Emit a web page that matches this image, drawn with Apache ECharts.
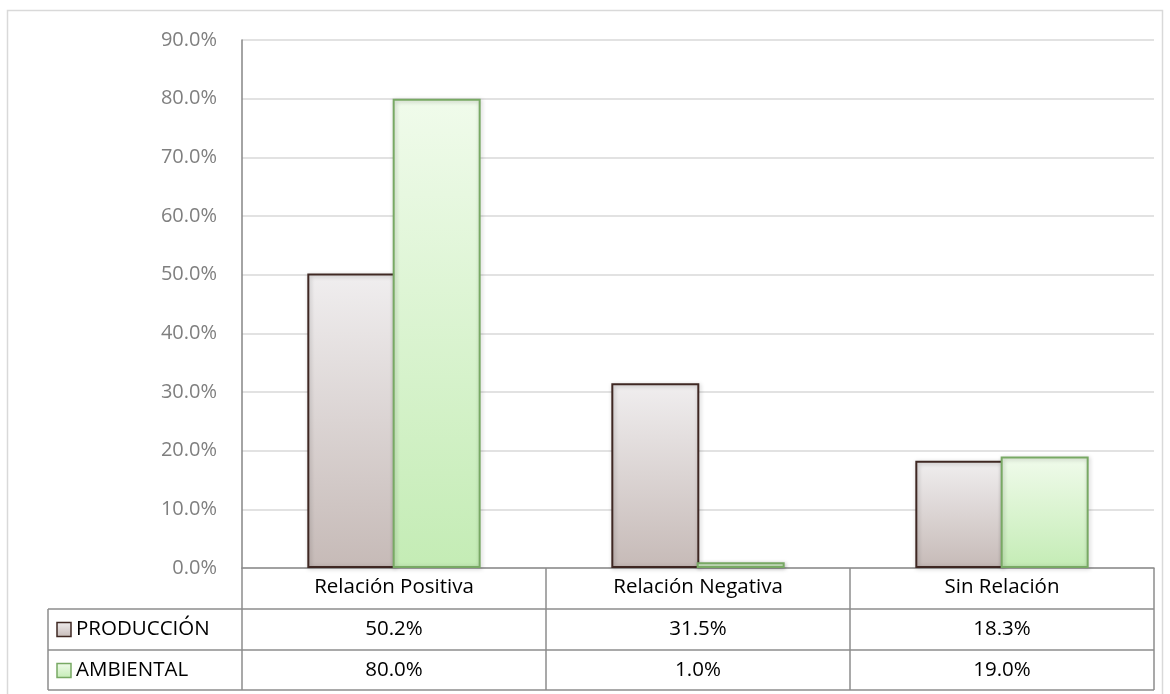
<!DOCTYPE html>
<html>
<head>
<meta charset="utf-8">
<script src="https://cdn.jsdelivr.net/npm/echarts@6/dist/echarts.min.js"></script>
<style>
  html, body { margin: 0; padding: 0; background: #fff; }
  #chart { width: 1170px; height: 694px; }
</style>
</head>
<body>
<div id="chart"></div>
<script>
// Data
const categories = ['Relación Positiva', 'Relación Negativa', 'Sin Relación'];
const seriesNames = ['PRODUCCIÓN', 'AMBIENTAL'];
const produccion = [50.2, 31.5, 18.3];
const ambiental = [80.0, 1.0, 19.0];

const fontFamily = '"Open Sans", "Noto Sans", sans-serif';
const tableFont = '20.5px ' + fontFamily;

// Fill / border colours per series
const fills = [
    new echarts.graphic.LinearGradient(0, 0, 0, 1, [
        { offset: 0, color: '#f0eeef' },
        { offset: 1, color: '#c6bab7' }
    ]),
    new echarts.graphic.LinearGradient(0, 0, 0, 1, [
        { offset: 0, color: '#f0fbeb' },
        { offset: 1, color: '#c4ecb5' }
    ])
];
const borders = ['#3f2823', '#78a964'];

const chart = echarts.init(document.getElementById('chart'));

const grid = { left: 242, top: 40, width: 912, height: 528 };

const option = {
    animation: false,
    textStyle: { fontFamily: fontFamily },
    grid: grid,
    xAxis: {
        type: 'category',
        data: categories,
        axisLine: { lineStyle: { color: '#8c8c8c', width: 1.5 } },
        axisTick: { show: false },
        axisLabel: { color: '#000', fontSize: 20.5, margin: 9, fontFamily: fontFamily }
    },
    yAxis: {
        type: 'value',
        min: 0,
        max: 90,
        interval: 10,
        axisLine: { show: true, lineStyle: { color: '#868686', width: 1.5 } },
        axisTick: { show: false },
        axisLabel: {
            color: '#7f7f7f',
            fontSize: 20,
            margin: 25,
            formatter: v => v.toFixed(1) + '%'
        },
        splitLine: { lineStyle: { color: '#d9d9d9', width: 1.5 } }
    },
    series: [produccion, ambiental].map((vals, i) => ({
        name: seriesNames[i],
        type: 'bar',
        data: vals,
        barWidth: 88,
        barGap: '-3%',
        itemStyle: {
            color: fills[i],
            borderColor: borders[i],
            borderWidth: 2,
            shadowColor: 'rgba(0,0,0,0.25)',
            shadowBlur: 4,
            shadowOffsetX: 1,
            shadowOffsetY: 1
        }
    }))
};

chart.setOption(option);

// Data table below the plot, built from the same arrays
const lineStyle = { stroke: '#8c8c8c', lineWidth: 1.5 };
const rowH = 41;
const top0 = grid.top + grid.height;
const left0 = 48;
const right0 = grid.left + grid.width;
const catW = grid.width / categories.length;
const elements = [];

// outer chart frame
elements.push({
    type: 'rect', silent: true,
    shape: { x: 7.5, y: 10.5, width: 1155, height: 700 },
    style: { fill: 'none', stroke: '#d9d9d9', lineWidth: 1.5 }
});

// horizontal rules
for (let r = 1; r <= 3; r++) {
    const y = top0 + r * rowH - (r === 3 ? 1 : 0);
    elements.push({ type: 'line', silent: true, shape: { x1: left0, y1: y, x2: right0, y2: y }, style: lineStyle });
}
// vertical rules
for (let c = 0; c <= categories.length; c++) {
    const x = grid.left + c * catW;
    elements.push({ type: 'line', silent: true, shape: { x1: x, y1: top0, x2: x, y2: top0 + 3 * rowH - 1 }, style: lineStyle });
}
elements.push({ type: 'line', silent: true, shape: { x1: left0, y1: top0 + rowH, x2: left0, y2: top0 + 3 * rowH - 1 }, style: lineStyle });

[produccion, ambiental].forEach((vals, i) => {
    const cy = top0 + (i + 1) * rowH + rowH / 2;
    // legend key
    elements.push({
        type: 'rect', silent: true,
        shape: { x: 57, y: cy - 7, width: 14, height: 14 },
        style: { fill: fills[i], stroke: borders[i], lineWidth: 1.5 }
    });
    elements.push({
        type: 'text', silent: true,
        style: {
            x: 76, y: cy, text: seriesNames[i], fill: '#000',
            font: tableFont, verticalAlign: 'middle', align: 'left'
        }
    });
    vals.forEach((v, j) => {
        elements.push({
            type: 'text', silent: true,
            style: {
                x: grid.left + (j + 0.5) * catW, y: cy,
                text: v.toFixed(1) + '%', fill: '#000',
                font: tableFont, verticalAlign: 'middle', align: 'center'
            }
        });
    });
});

chart.setOption({ graphic: { elements: elements } });
</script>
</body>
</html>
